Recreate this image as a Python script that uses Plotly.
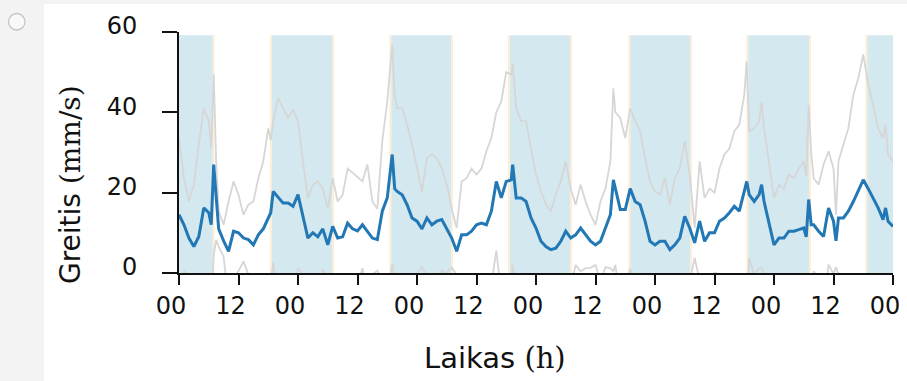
import plotly.graph_objects as go

# Hourly walking speed: mean and standard deviation (mm/s)
hours = [0, 1, 2, 3, 4, 5, 6, 6.5, 7, 7.5, 8, 9, 10, 11, 12, 13, 14, 15, 16, 17, 18, 18.5,
         19, 20, 21, 22, 23, 24, 25, 26, 27, 28, 29, 30, 31, 32, 33, 34, 35, 36,
         37, 38, 39, 40, 41, 42, 43, 43.5, 44, 45, 46, 47, 48, 49, 50, 51, 52, 53, 54,
         55, 56, 57, 58, 59, 60, 61, 62, 63, 64, 65, 66, 67, 67.3, 68, 69, 70, 71, 72,
         73, 74, 75, 76, 77, 78, 79, 80, 81, 82, 83, 84, 85, 86, 87, 87.6, 88, 89, 90,
         91, 92, 93, 94, 95, 96, 97, 98, 99, 100, 101, 102, 103, 104, 105, 106, 107, 108,
         109, 110, 111, 112, 113, 114, 114.5, 115, 116, 117, 117.5, 118, 119, 120, 121,
         122, 123, 124, 125, 126, 126.5, 127, 127.5, 128, 129, 130, 131, 132, 132.5, 133,
         134, 135, 136, 137, 138, 139, 140, 141, 142, 142.5, 143, 144]

speed_mean = [14.5, 12, 8.7, 6.6, 9.1, 16.2, 15, 12, 27, 18, 11, 8, 5.4, 10.4, 10, 8.7, 8.3, 7, 9.5, 11, 13.7, 15,
              20.3, 18.7, 17.4, 17.4, 16.6, 19.5, 13.7, 8.7, 10, 9, 11, 7, 11.6, 8.7, 9, 12.4, 11, 10.5,
              12, 10.4, 8.7, 8.3, 15.4, 18.7, 29.5, 21, 20.3, 19.5, 17, 13.7, 12.9, 11, 13.7, 12, 12.9, 13.3, 11,
              8.7, 5.4, 9.5, 9.5, 10.4, 12, 12.4, 12, 15.4, 22.8, 18.7, 22.8, 23.2, 27, 18.7, 18.7, 17.8, 13.7, 11.2,
              7.9, 6.6, 5.8, 6.2, 7.9, 10.4, 8.7, 9.5, 11.2, 9.5, 7.9, 7, 7.9, 11.2, 14.5, 23.2, 21, 15.8, 15.8,
              21, 17.8, 17, 12.9, 7.9, 7, 7.9, 7.9, 5.8, 7, 8.7, 14.1, 11.2, 7.5, 12.9, 7.9, 10, 10,
              12.9, 13.7, 15, 16.6, 15.4, 20.3, 22.8, 19.5, 17.8, 19.5, 22, 17.8, 12, 7, 8.7,
              8.7, 10.4, 10.4, 10.8, 11.2, 9, 18.3, 12, 12, 10.4, 9.1, 16.2, 12.9, 8, 13.7,
              13.7, 15.4, 17.8, 20.3, 23.2, 21, 18.7, 16.2, 13.3, 16.2, 12.9, 11.6]

speed_sd = [19.1, 11.6, 9.1, 15.4, 22.9, 24.8, 22.8, 19, 22.4, 9.8, 4.4, 4, 12.4, 12.4, 9.5, 5.8, 8.7, 10.8, 14.1, 16.8, 22.3, 18,
            17.5, 24.9, 23.6, 21.2, 24.1, 18.3, 14.1, 10, 12, 13.8, 10, 9, 12, 9.1, 10.5, 13.6, 14, 13.5,
            10.8, 16.6, 9.1, 7.7, 17.4, 24, 27.3, 23, 20.7, 21.5, 20, 18.3, 13.1, 9.3, 14.9, 17.5, 15.7, 12.7, 11,
            7.3, 5.8, 13.3, 14.1, 15.6, 12.5, 13.6, 18.3, 18.2, 17.2, 24, 27.2, 26.2, 25, 22.3, 19.1, 20, 17.3, 13.3,
            12.4, 10.4, 9.6, 13.3, 14.9, 17.4, 12.3, 7.5, 10.8, 8.3, 6.6, 5, 9.9, 9.8, 13.3, 22.8, 19, 22.8, 17.8,
            20, 20, 18.3, 15.7, 14.9, 13.3, 11.6, 15.7, 11.2, 16.6, 17.3, 18.7, 13.3, 3.7, 14.9, 10.8, 11, 10,
            13.1, 15.8, 16, 18.7, 21.5, 24.1, 29.9, 15.8, 18.2, 18.3, 20.7, 18.2, 15.8, 11.7, 13.3,
            12.3, 14.1, 13.2, 15.2, 16.6, 15, 23.6, 18, 11.6, 11.6, 17.9, 14.1, 13.1, 6.5, 14.1,
            18.3, 20.6, 26.6, 28.2, 31.2, 25.9, 23.2, 19.8, 20.3, 20.7, 16.6, 16.2]

# Dark periods (h), with short twilight strips at dusk and dawn
night_start = [0, 18.7, 42.8, 66.7, 91.0, 114.8, 138.8]
night_end = [6.8, 30.9, 54.9, 78.9, 103.1, 127.1, 144]
twilight = 0.35

tick_hours = [0, 12, 24, 36, 48, 60, 72, 84, 96, 108, 120, 132, 144]
tick_text = ["00", "12", "00", "12", "00", "12", "00", "12", "00", "12", "00", "12", "00"]
y_ticks = [0, 20, 40, 60]

W, H = 907, 381
ML, MR, MT, MB = 179, 14, 32, 108
PW, PH = W - ML - MR, H - MT - MB


def px_x(px):
    return (px - ML) / PW


def px_y(py):
    return (H - MB - py) / PH


upper = [m + s for m, s in zip(speed_mean, speed_sd)]
lower = [m - s for m, s in zip(speed_mean, speed_sd)]

fig = go.Figure()
fig.add_trace(go.Scatter(x=hours, y=upper, mode="lines",
                         line=dict(color="#d6d6d6", width=1.8), hoverinfo="skip"))
fig.add_trace(go.Scatter(x=hours, y=lower, mode="lines",
                         line=dict(color="#d6d6d6", width=1.8), hoverinfo="skip"))
fig.add_trace(go.Scatter(x=hours, y=speed_mean, mode="lines",
                         line=dict(color="#2277b5", width=3)))

shapes = []
# page background card and radio marker
shapes.append(dict(type="rect", xref="paper", yref="paper", layer="below",
                   x0=px_x(44), x1=px_x(W + 5), y0=px_y(H + 5), y1=px_y(4),
                   fillcolor="white", line=dict(width=0)))
shapes.append(dict(type="circle", xref="paper", yref="paper", layer="below",
                   x0=px_x(8.5), x1=px_x(25), y0=px_y(30), y1=px_y(13.5),
                   fillcolor="#f8f8f8", line=dict(color="#c4c4c4", width=1.3)))
for s, e in zip(night_start, night_end):
    shapes.append(dict(type="rect", xref="x", yref="y", layer="below",
                       x0=s, x1=e, y0=0, y1=59.2,
                       fillcolor="#d4e8f0", line=dict(width=0)))
    if s > 0:
        shapes.append(dict(type="rect", xref="x", yref="y", layer="below",
                           x0=s - twilight, x1=s, y0=0, y1=59.2,
                           fillcolor="#fcecd2", line=dict(width=0)))
    if e < 144:
        shapes.append(dict(type="rect", xref="x", yref="y", layer="below",
                           x0=e, x1=e + twilight, y0=0, y1=59.2,
                           fillcolor="#fcecd2", line=dict(width=0)))

annotations = [
    dict(xref="paper", yref="paper", x=px_x(495), y=px_y(358),
         xanchor="center", yanchor="middle", showarrow=False,
         font=dict(family="DejaVu Sans", size=29, color="#111"),
         text="Laikas <span style='font-family:DejaVu Serif'>(h)</span>"),
    dict(xref="paper", yref="paper", x=px_x(70), y=px_y(184),
         xanchor="center", yanchor="middle", showarrow=False,
         font=dict(family="DejaVu Sans", size=28, color="#111"),
         textangle=-90,
         text="Greitis <span style='font-family:DejaVu Serif'>(mm/s)</span>"),
]

tick_font = dict(family="DejaVu Sans", size=24, color="#111")
fig.update_layout(
    width=W, height=H,
    margin=dict(l=ML, r=MR, t=MT, b=MB, pad=0, autoexpand=False),
    paper_bgcolor="#f3f3f3", plot_bgcolor="rgba(0,0,0,0)",
    showlegend=False,
    shapes=shapes,
    annotations=annotations,
    xaxis=dict(range=[0, 144], tickvals=tick_hours, ticktext=tick_text, automargin=False,
               showgrid=False, zeroline=False, showline=True, linecolor="#111", linewidth=2,
               ticks="outside", ticklen=10, tickwidth=2, tickcolor="#111",
               tickfont=tick_font, ticklabelshift=-8),
    yaxis=dict(range=[0, 60], tickvals=y_ticks, automargin=False,
               showgrid=False, zeroline=False, showline=True, linecolor="#111", linewidth=2,
               ticks="outside", ticklen=15, tickwidth=2, tickcolor="#111",
               tickfont=tick_font, ticklabelshift=-6, ticklabelstandoff=20),
)

fig.write_html("out.html")
